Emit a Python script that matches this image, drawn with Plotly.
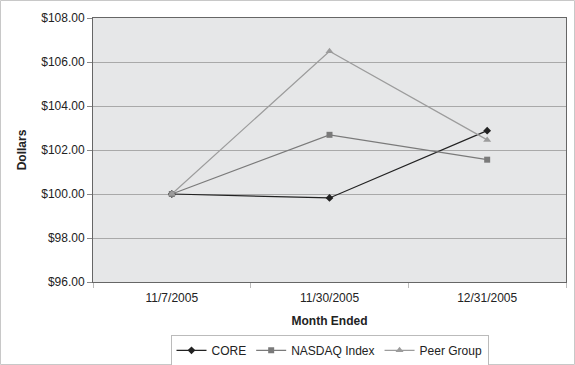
import plotly.graph_objects as go

categories = ["11/7/2005", "11/30/2005", "12/31/2005"]
core = [100.00, 99.82, 102.88]
nasdaq = [100.00, 102.69, 101.56]
peer = [100.00, 106.49, 102.46]
y_ticks = [96, 98, 100, 102, 104, 106, 108]
y_labels = ["$%.2f" % v for v in y_ticks]

font = "Liberation Sans, Arial, sans-serif"

fig = go.Figure()
fig.add_trace(go.Scatter(x=categories, y=core, name="CORE", mode="lines+markers",
                         line=dict(color="#222222", width=1.2),
                         marker=dict(symbol="diamond", size=6, color="#222222")))
fig.add_trace(go.Scatter(x=categories, y=nasdaq, name="NASDAQ Index", mode="lines+markers",
                         line=dict(color="#7a7a7a", width=1.2),
                         marker=dict(symbol="square", size=6, color="#7a7a7a")))
fig.add_trace(go.Scatter(x=categories, y=peer, name="Peer Group", mode="lines+markers",
                         line=dict(color="#9c9c9c", width=1.2),
                         marker=dict(symbol="triangle-up", size=7, color="#9c9c9c")))

L, R, T, B = 93, 9, 18, 83
W, H = 575, 365
pw, ph = W - L - R, H - T - B

fig.update_layout(
    width=W, height=H,
    margin=dict(l=L, r=R, t=T, b=B, autoexpand=False),
    paper_bgcolor="white",
    plot_bgcolor="#e6e7e8",
    font=dict(family=font, size=12, color="#222222"),
    showlegend=True,
    legend=dict(orientation="h", x=0.5, xanchor="center", y=-0.2, yanchor="top",
                bordercolor="#bbbbbb", borderwidth=1, bgcolor="white",
                font=dict(size=12), itemwidth=30, tracegroupgap=0),
    xaxis=dict(type="category", range=[-0.5, 2.5], showgrid=False, automargin=False,
               ticks="outside", tickson="boundaries", ticklen=5, tickcolor="#bbbbbb",
               ticklabelstandoff=5,
               showline=True, linecolor="#666666", linewidth=1, mirror=True,
               title=dict(text="<b>Month Ended</b>", font=dict(size=12), standoff=12)),
    yaxis=dict(range=[96, 108], tickvals=y_ticks, ticktext=y_labels, automargin=False,
               showgrid=True, gridcolor="#a9a9a9", gridwidth=1,
               ticks="outside", ticklen=5, tickcolor="#888888",
               showline=True, linecolor="#666666", linewidth=1, mirror=True,
               zeroline=False,
               title=dict(text="<b>Dollars</b>", font=dict(size=12), standoff=12)),
)

fig.add_shape(type="rect", xref="paper", yref="paper",
              x0=-(L - 0.5) / pw, x1=1 + (R - 0.5) / pw,
              y0=-(B - 0.5) / ph, y1=1 + (T - 0.5) / ph,
              line=dict(color="#c8c8c8", width=1), layer="below")

fig.write_html("out.html", config={"displayModeBar": False},
               post_script="document.body.style.margin='0';")
